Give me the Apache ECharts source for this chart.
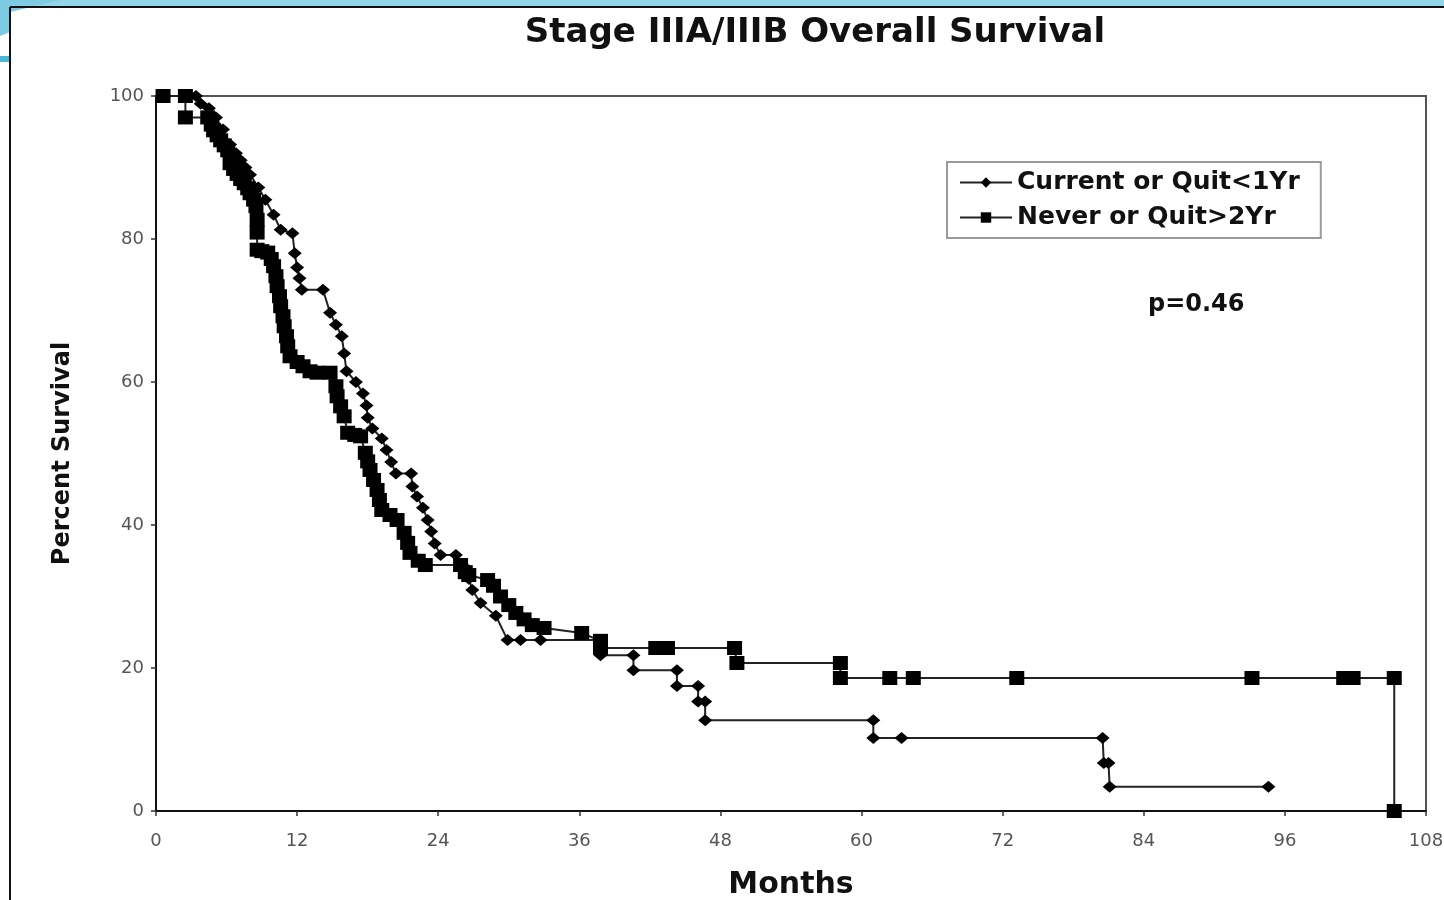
<!DOCTYPE html>
<html>
<head>
<meta charset="utf-8">
<script src="https://cdn.jsdelivr.net/npm/echarts@6/dist/echarts.min.js"></script>
<style>
html,body{margin:0;padding:0;background:#fff;}
#chart{width:1444px;height:900px;}
</style>
</head>
<body>
<div id="chart"></div>
<script>
const titleText = 'Stage IIIA/IIIB Overall Survival';
const seriesNames = ['Current or Quit<1Yr', 'Never or Quit>2Yr'];
const xTicks = [0, 12, 24, 36, 48, 60, 72, 84, 96, 108];
const yTicks = [0, 20, 40, 60, 80, 100];
const pValueText = 'p=0.46';

const currentMonths = [0.6, 3.4, 3.8, 4.5, 5.1, 5.7, 6.3, 6.8, 7.2, 7.6,
  8.0, 8.7, 9.3, 10.0, 10.6, 11.6, 11.8, 12.0, 12.2, 12.4,
  14.2, 14.8, 15.3, 15.8, 16.0, 16.2, 17.0, 17.6, 17.9, 18.0,
  18.4, 19.2, 19.6, 20.0, 20.4, 21.7, 21.8, 22.2, 22.7, 23.1,
  23.4, 23.7, 24.2, 25.5, 26.2, 26.6, 26.9, 27.6, 28.9, 29.9,
  31.0, 32.7, 37.8, 37.8, 40.6, 40.6, 44.3, 44.3, 46.1, 46.1,
  46.7, 46.7, 61.0, 61.0, 63.4, 80.5, 80.6, 81.0, 81.1, 94.6];
const currentSurvival = [100, 100, 98.9, 98.3, 97, 95.3, 93.2, 92, 91, 90,
  89, 87.2, 85.5, 83.4, 81.3, 80.8, 78, 76, 74.5, 72.9,
  72.9, 69.7, 68, 66.4, 64, 61.5, 60, 58.4, 56.7, 55,
  53.5, 52.1, 50.5, 48.8, 47.2, 47.2, 45.4, 44, 42.4, 40.7,
  39.1, 37.4, 35.8, 35.8, 34.2, 32.5, 30.9, 29.1, 27.3, 23.9,
  23.9, 23.9, 23.9, 21.8, 21.8, 19.7, 19.7, 17.5, 17.5, 15.3,
  15.3, 12.7, 12.7, 10.2, 10.2, 10.2, 6.7, 6.7, 3.4, 3.4];

const neverMonths = [0.6, 2.5, 2.5, 4.4, 4.7, 4.9, 5.2, 5.5, 5.8, 6.1,
  6.3, 6.6, 6.9, 7.2, 7.5, 7.8, 8.0, 8.3, 8.5, 8.6,
  8.6, 8.6, 9.0, 9.5, 9.8, 10.0, 10.2, 10.3, 10.5, 10.6,
  10.8, 10.9, 11.1, 11.2, 11.4, 12.0, 12.5, 13.1, 13.7, 14.8,
  15.3, 15.4, 15.7, 16.0, 16.3, 16.9, 17.4, 17.8, 18.0, 18.2,
  18.5, 18.8, 19.0, 19.2, 19.9, 20.5, 21.1, 21.4, 21.6, 22.3,
  22.9, 25.9, 26.3, 26.6, 28.2, 28.7, 29.3, 30.0, 30.6, 31.3,
  32.0, 33.0, 36.2, 37.8, 37.8, 42.5, 43.5, 49.2, 49.4, 58.2,
  58.2, 62.4, 64.4, 73.2, 93.2, 101.0, 101.8, 105.3, 105.3];
const neverSurvival = [100, 100, 97, 97, 96, 95.2, 94.5, 93.8, 93.1, 92.4,
  90.6, 89.8, 89.1, 88.4, 87.8, 87.1, 86.4, 85.5, 84.6, 82.7,
  80.9, 78.5, 78.3, 78.1, 77.2, 76.2, 74.8, 73.4, 72, 70.6,
  69.2, 67.8, 66.4, 65, 63.6, 62.8, 62.2, 61.5, 61.3, 61.3,
  59.4, 58, 56.6, 55.2, 52.9, 52.6, 52.4, 50.1, 48.9, 47.7,
  46.3, 44.9, 43.5, 42.1, 41.4, 40.7, 38.9, 37.5, 36.1, 35,
  34.4, 34.4, 33.4, 33, 32.3, 31.5, 30, 28.8, 27.7, 26.8,
  26, 25.6, 24.9, 23.8, 22.8, 22.8, 22.8, 22.8, 20.7, 20.7,
  18.6, 18.6, 18.6, 18.6, 18.6, 18.6, 18.6, 18.6, 0];

function pairs(xs, ys) { return xs.map((x, i) => [x, ys[i]]); }

const chart = echarts.init(document.getElementById('chart'));
const FONT = '"DejaVu Sans", "Liberation Sans", Arial, sans-serif';

chart.setOption({
  backgroundColor: '#ffffff',
  animation: false,
  title: {
    text: titleText,
    left: 810, top: 11, textAlign: 'center',
    textStyle: { fontFamily: FONT, fontSize: 34, fontWeight: 'bold', color: '#111' }
  },
  legend: {
    orient: 'vertical',
    left: 947, top: 162,
    padding: [8, 21, 8, 12],
    itemGap: 10,
    itemWidth: 52, itemHeight: 13,
    borderColor: '#9a9a9a', borderWidth: 2,
    backgroundColor: '#fff',
    textStyle: { fontFamily: FONT, fontSize: 25, fontWeight: 'bold', color: '#111' },
    data: seriesNames
  },
  grid: {
    left: 156, right: 18, top: 96, bottom: 89,
    outerBoundsMode: 'none',
    containLabel: false,
    show: true, borderColor: '#555', borderWidth: 2, backgroundColor: '#fff'
  },
  xAxis: {
    type: 'value', min: 0, max: 108, interval: 12,
    name: 'Months', nameLocation: 'middle', nameGap: 59,
    nameTextStyle: { fontFamily: FONT, fontSize: 30, fontWeight: 'bold', color: '#111' },
    axisLine: { show: true, lineStyle: { color: '#111', width: 2 } },
    axisTick: { show: true, inside: false, length: 5, lineStyle: { color: '#333', width: 1.5 } },
    axisLabel: {
      fontFamily: FONT, fontSize: 18, color: '#555', margin: 21,
      customValues: xTicks
    },
    splitLine: { show: false }
  },
  yAxis: {
    type: 'value', min: 0, max: 100, interval: 20,
    name: 'Percent Survival', nameLocation: 'middle', nameGap: 81, nameRotate: 90,
    nameTextStyle: { fontFamily: FONT, fontSize: 24, fontWeight: 'bold', color: '#111' },
    axisLine: { show: true, lineStyle: { color: '#111', width: 2 } },
    axisTick: { show: true, inside: false, length: 5, lineStyle: { color: '#333', width: 1.5 } },
    axisLabel: { fontFamily: FONT, fontSize: 18, color: '#555', margin: 12, customValues: yTicks },
    splitLine: { show: false }
  },
  graphic: [
    { type: 'rect', shape: { x: 0, y: 0, width: 1444, height: 7 }, style: { fill: '#93d6ea' }, z: 100 },
    { type: 'polygon', shape: { points: [[0, 0], [60, 0], [10, 12], [10, 32], [0, 36]] }, style: { fill: '#7ccbe3' }, z: 100 },
    { type: 'rect', shape: { x: 0, y: 56, width: 10, height: 6 }, style: { fill: '#4bb6d6' }, z: 100 },
    { type: 'line', shape: { x1: 10, y1: 7, x2: 1444, y2: 7 }, style: { stroke: '#111', lineWidth: 2 }, z: 100 },
    { type: 'line', shape: { x1: 10, y1: 7, x2: 10, y2: 900 }, style: { stroke: '#111', lineWidth: 2 }, z: 100 },
    {
      type: 'text', left: 1148, top: 293, z: 100,
      style: { text: pValueText, font: 'bold 24px "DejaVu Sans", Arial, sans-serif', fill: '#111' }
    }
  ],
  series: [
    {
      name: seriesNames[0],
      type: 'line',
      data: pairs(currentMonths, currentSurvival),
      symbol: 'diamond', symbolSize: [14, 12],
      showAllSymbol: true,
      lineStyle: { color: '#222', width: 2 },
      itemStyle: { color: '#000' },
      z: 3
    },
    {
      name: seriesNames[1],
      type: 'line',
      data: pairs(neverMonths, neverSurvival),
      symbol: 'rect', symbolSize: [15, 14],
      showAllSymbol: true,
      lineStyle: { color: '#222', width: 2 },
      itemStyle: { color: '#000' },
      z: 4
    }
  ]
});
</script>
</body>
</html>
